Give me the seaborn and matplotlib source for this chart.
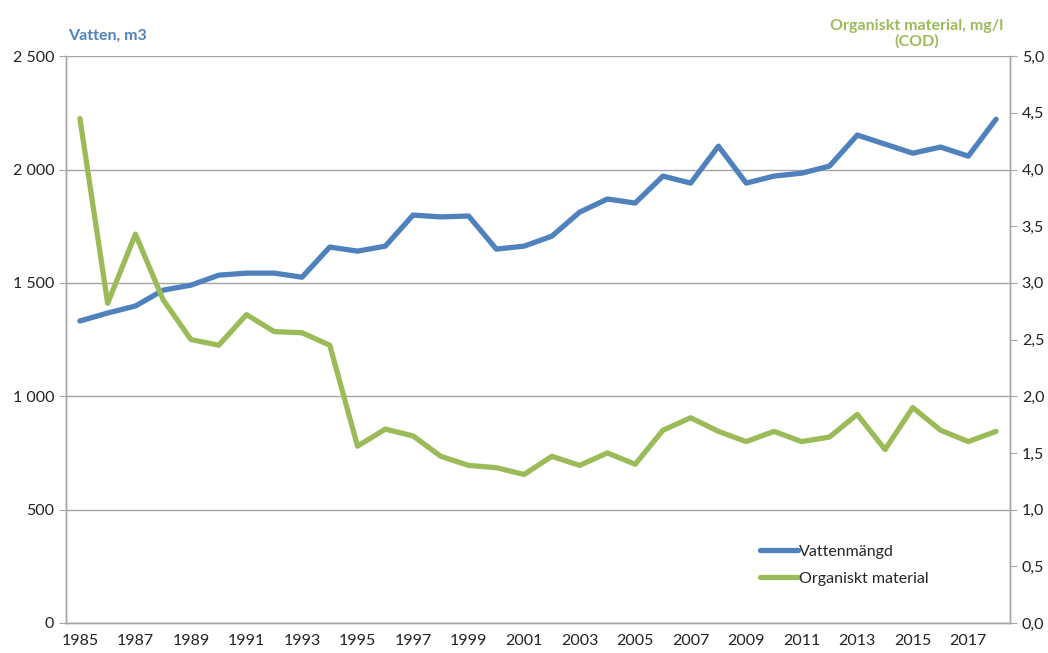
import numpy as np
import pandas as pd
import matplotlib
matplotlib.use("Agg")
import matplotlib.pyplot as plt
import seaborn as sns

# Data
years = list(range(1985, 2019))
vatten = [1332, 1367, 1398, 1468, 1490, 1534, 1543, 1543, 1525, 1658,
          1640, 1662, 1799, 1791, 1795, 1649, 1662, 1706, 1812, 1870,
          1852, 1971, 1940, 2103, 1940, 1971, 1984, 2015, 2152, 2112,
          2072, 2099, 2059, 2222]
organiskt = [4.45, 2.82, 3.43, 2.85, 2.50, 2.45, 2.72, 2.57, 2.56, 2.45,
             1.56, 1.71, 1.65, 1.47, 1.39, 1.37, 1.31, 1.47, 1.39, 1.50,
             1.40, 1.70, 1.81, 1.69, 1.60, 1.69, 1.60, 1.64, 1.84, 1.53,
             1.90, 1.70, 1.60, 1.69]

df = pd.DataFrame({"year": years, "vatten": vatten, "organiskt": organiskt})

blue = "#4F81BD"
green = "#9BBB59"
grid_c = "#A6A6A6"

sns.set_style("white")
plt.rcParams['font.family'] = ['Lato', 'DejaVu Sans']

fig = plt.figure(figsize=(10.48, 6.53), dpi=100)
ax = fig.add_axes([0.063, 0.046, 0.9007, 0.868])
ax2 = ax.twinx()

sns.lineplot(data=df, x="year", y="vatten", ax=ax, color=blue, linewidth=3.8,
             label="Vattenmängd", legend=False, solid_capstyle="round",
             solid_joinstyle="round")
sns.lineplot(data=df, x="year", y="organiskt", ax=ax2, color=green, linewidth=3.8,
             label="Organiskt material", legend=False, solid_capstyle="round",
             solid_joinstyle="round")

ax.set_xlim(1984.5, 2018.5)
ax.set_ylim(0, 2500)
ax2.set_ylim(0, 5.0)

ax.set_yticks(np.arange(0, 2501, 500))
ax.set_yticklabels([f"{v:,}".replace(",", " ") for v in range(0, 2501, 500)])
ax2.set_yticks(np.arange(0, 5.01, 0.5))
ax2.set_yticklabels([f"{v:.1f}".replace(".", ",") for v in np.arange(0, 5.01, 0.5)])

ax.set_xticks(years[::2])
ax.set_xticklabels([str(y) for y in years[::2]])
ax.set_xticks(np.arange(1984.5, 2019, 1), minor=True)
ax.tick_params(axis="x", which="major", length=0, labelsize=11.5, pad=8)
ax.tick_params(axis="x", which="minor", length=5, color=grid_c, direction="out")
ax.tick_params(axis="y", length=5, color=grid_c, labelsize=11.5, left=True)
ax2.tick_params(axis="y", length=5, color=grid_c, labelsize=11.5, right=True)
for lab in ax.get_xticklabels() + ax.get_yticklabels() + ax2.get_yticklabels():
    lab.set_color("#222222")

ax.set_xlabel("")
ax.set_ylabel("")
ax2.set_ylabel("")

ax.yaxis.grid(True, color=grid_c, linewidth=1)
ax.set_axisbelow(True)
for a in (ax, ax2):
    a.spines["top"].set_visible(False)
    for s in ("left", "right", "bottom"):
        a.spines[s].set_color(grid_c)
        a.spines[s].set_linewidth(1)

fig.text(0.065, 0.935, "Vatten, m3", color=blue, fontsize=11.5, fontweight="bold",
         ha="left", va="bottom")
fig.text(0.875, 0.925, "Organiskt material, mg/l\n(COD)", color=green, fontsize=11.5,
         fontweight="bold", ha="center", va="bottom", linespacing=1.1)

h1, l1 = ax.get_legend_handles_labels()
h2, l2 = ax2.get_legend_handles_labels()
ax2.legend(h1 + h2, l1 + l2, loc="lower left", bbox_to_anchor=(0.72, 0.04),
           frameon=False, fontsize=11.5, handlelength=2.4, handletextpad=0.05,
           labelspacing=0.8)

fig.savefig("out.png", dpi=100)
